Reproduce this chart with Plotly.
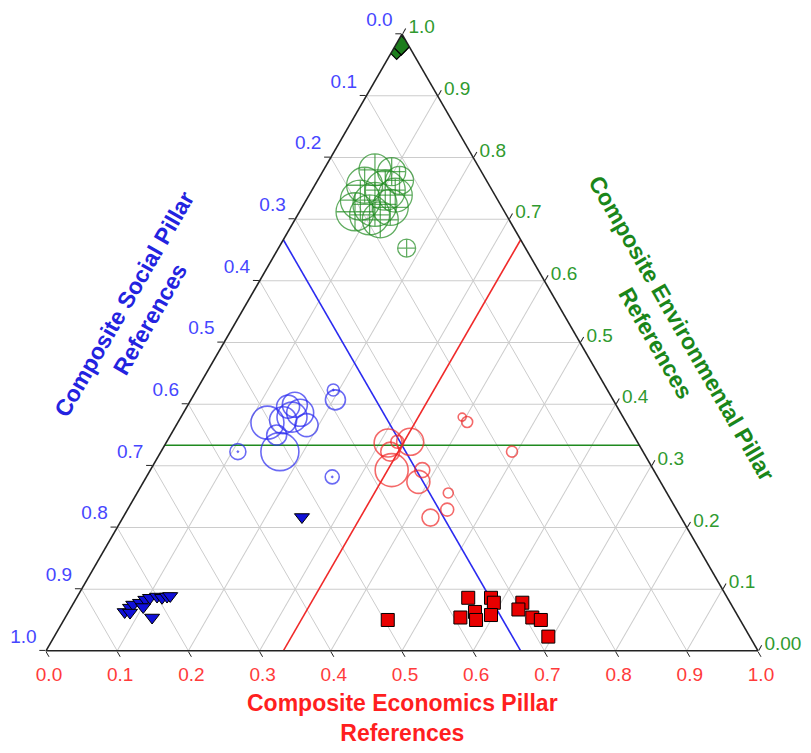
import plotly.graph_objects as go

# ---------------- data (ternary fractions: Economics, Environmental; Social = 1 - both) -------------
# Environmental-dominant references (green circles with cross)
green_econ = [0.072, 0.097, 0.115, 0.070, 0.103, 0.121, 0.076, 0.100, 0.124, 0.101, 0.120, 0.078, 0.180]
green_env = [0.780, 0.777, 0.763, 0.755, 0.747, 0.739, 0.731, 0.724, 0.719, 0.707, 0.699, 0.712, 0.653]
green_weight = [3.2, 2.8, 2.8, 3.6, 4.0, 3.4, 4.0, 4.4, 3.6, 4.0, 3.6, 3.8, 1.8]

# Green diamonds near the Environmental apex
diamond_econ = [0.005, 0.008]
diamond_env = [0.975, 0.982]

# Social-dominant references (blue open circles)
blue_econ = [0.126, 0.167, 0.142, 0.150, 0.164, 0.156, 0.183, 0.146, 0.149, 0.203]
blue_env = [0.370, 0.323, 0.396, 0.399, 0.386, 0.379, 0.366, 0.374, 0.350, 0.407]
blue_weight = [3.3, 3.8, 2.3, 2.5, 2.7, 3.0, 2.3, 2.7, 2.0, 2.0]

# Blue circles with a dot
bdot_econ = [0.192, 0.108, 0.261]
bdot_env = [0.423, 0.323, 0.282]
bdot_weight = [1.2, 1.6, 1.4]

# Blue downward triangles
tri_econ = [0.079, 0.083, 0.085, 0.093, 0.098, 0.103, 0.112, 0.120, 0.126, 0.130, 0.122, 0.101, 0.087, 0.251]
tri_env = [0.063, 0.070, 0.075, 0.078, 0.083, 0.086, 0.088, 0.086, 0.088, 0.089, 0.054, 0.071, 0.062, 0.217]

# Economics-dominant references (red open circles)
red_econ = [0.312, 0.342, 0.324, 0.322, 0.339, 0.386, 0.382, 0.437, 0.449, 0.432, 0.395, 0.406, 0.493]
red_env = [0.337, 0.339, 0.339, 0.323, 0.293, 0.274, 0.293, 0.256, 0.229, 0.216, 0.379, 0.371, 0.323]
red_weight = [2.8, 2.7, 1.3, 1.9, 3.3, 2.3, 1.5, 1.0, 1.3, 1.7, 0.8, 1.1, 1.1]

# Red squares
sq_econ = [0.455, 0.550, 0.555, 0.571, 0.579, 0.582, 0.590, 0.596, 0.630, 0.630, 0.656, 0.670, 0.694]
sq_env = [0.050, 0.086, 0.054, 0.063, 0.050, 0.086, 0.078, 0.058, 0.078, 0.067, 0.054, 0.050, 0.023]

# One-third reference lines (Economics, Environmental at the two ends)
third = 1 / 3
social_line_econ = [0.0, 2 * third]
social_line_env = [2 * third, 0.0]
econ_line_econ = [third, third]
econ_line_env = [0.0, 2 * third]
env_line_econ = [0.0, 2 * third]
env_line_env = [third, third]

# Tick values / labels
tick_vals = [i / 10 for i in range(11)]
social_labels = ['1.0', '0.9', '0.8', '0.7', '0.6', '0.5', '0.4', '0.3', '0.2', '0.1', '0.0']
econ_labels = ['1.0', '0.9', '0.8', '0.7', '0.6', '0.5', '0.4', '0.3', '0.2', '0.1', '0.0']
env_labels = ['1.0', '0.9', '0.8', '0.7', '0.6', '0.5', '0.4', '0.3', '0.2', '0.1', '0.00']

BLUE = '#2b2bf0'
RED = '#f02a2a'
GREEN = '#1f8a1f'
BLUE_T = '#4646ff'
RED_T = '#ff3b3b'
GREEN_T = '#2f9a2f'


def soc(econ, env):
    return [1 - e - v for e, v in zip(econ, env)]


def tern(econ, env, **kw):
    # a = Environmental (apex), b = Social (bottom-left), c = Economics (bottom-right)
    return go.Scatterternary(a=env, b=soc(econ, env), c=econ, **kw)


fig = go.Figure()

fig.add_trace(tern(social_line_econ, social_line_env, mode='lines', line=dict(color=BLUE, width=1.6), hoverinfo='skip'))
fig.add_trace(tern(econ_line_econ, econ_line_env, mode='lines', line=dict(color=RED, width=1.6), hoverinfo='skip'))
fig.add_trace(tern(env_line_econ, env_line_env, mode='lines', line=dict(color=GREEN, width=1.6), hoverinfo='skip'))

fig.add_trace(tern(green_econ, green_env, mode='markers',
                   marker=dict(symbol='circle-cross-open', size=green_weight, sizemode='diameter', sizeref=0.1,
                               color=GREEN, line=dict(width=1.3))))
fig.add_trace(tern(diamond_econ, diamond_env, mode='markers',
                   marker=dict(symbol='diamond', size=15, color='#1d7d1d', line=dict(color='black', width=1.2))))
fig.add_trace(tern(blue_econ, blue_env, mode='markers',
                   marker=dict(symbol='circle-open', size=blue_weight, sizemode='diameter', sizeref=0.1,
                               color=BLUE, line=dict(width=1.6))))
fig.add_trace(tern(bdot_econ, bdot_env, mode='markers',
                   marker=dict(symbol='circle-open-dot', size=bdot_weight, sizemode='diameter', sizeref=0.1,
                               color=BLUE, line=dict(width=1.6))))
fig.add_trace(tern(tri_econ, tri_env, mode='markers',
                   marker=dict(symbol='triangle-down', size=13, color='#1010d8', line=dict(color='black', width=1))))
fig.add_trace(tern(red_econ, red_env, mode='markers',
                   marker=dict(symbol='circle-open', size=red_weight, sizemode='diameter', sizeref=0.1,
                               color=RED, line=dict(width=1.6))))
fig.add_trace(tern(sq_econ, sq_env, mode='markers',
                   marker=dict(symbol='square', size=13, color='#e80000', line=dict(color='black', width=1))))

axis_common = dict(
    tickmode='array', tickvals=tick_vals, ticks='outside', ticklen=6, tickwidth=1.3, tickcolor='#222',
    showline=True, linecolor='#222', linewidth=1.6, showgrid=True, gridcolor='#cccccc', gridwidth=1,
    title=dict(text=''),
)

fig.update_layout(
    width=811, height=753,
    margin=dict(l=46, r=53, t=34, b=102),
    paper_bgcolor='white',
    showlegend=False,
    font=dict(family='Arial, Liberation Sans, sans-serif'),
    ternary=dict(
        sum=1,
        bgcolor='white',
        aaxis=dict(ticktext=[t + '<br> ' for t in social_labels],
                   tickfont=dict(size=19, color=BLUE_T), **axis_common),
        baxis=dict(ticktext=econ_labels, tickfont=dict(size=19, color=RED_T), **axis_common),
        caxis=dict(ticktext=env_labels, tickfont=dict(size=19, color=GREEN_T), **axis_common),
    ),
    annotations=[
        dict(text='<b>Composite Social Pillar<br>References</b>', xref='paper', yref='paper',
             x=0.1285, y=0.551, xanchor='center', yanchor='middle', textangle=-60, showarrow=False,
             font=dict(size=23, color='#2323e0')),
        dict(text='<b>Composite Environmental Pillar<br>References</b>', xref='paper', yref='paper',
             x=0.875, y=0.511, xanchor='center', yanchor='middle', textangle=60, showarrow=False,
             font=dict(size=23, color='#1a861a')),
        dict(text='<b>Composite Economics Pillar<br>References</b>', xref='paper', yref='paper',
             x=0.5, y=-0.108, xanchor='center', yanchor='middle', showarrow=False,
             font=dict(size=23, color='#ff1f1f')),
    ],
)

fig.write_html('out.html')
